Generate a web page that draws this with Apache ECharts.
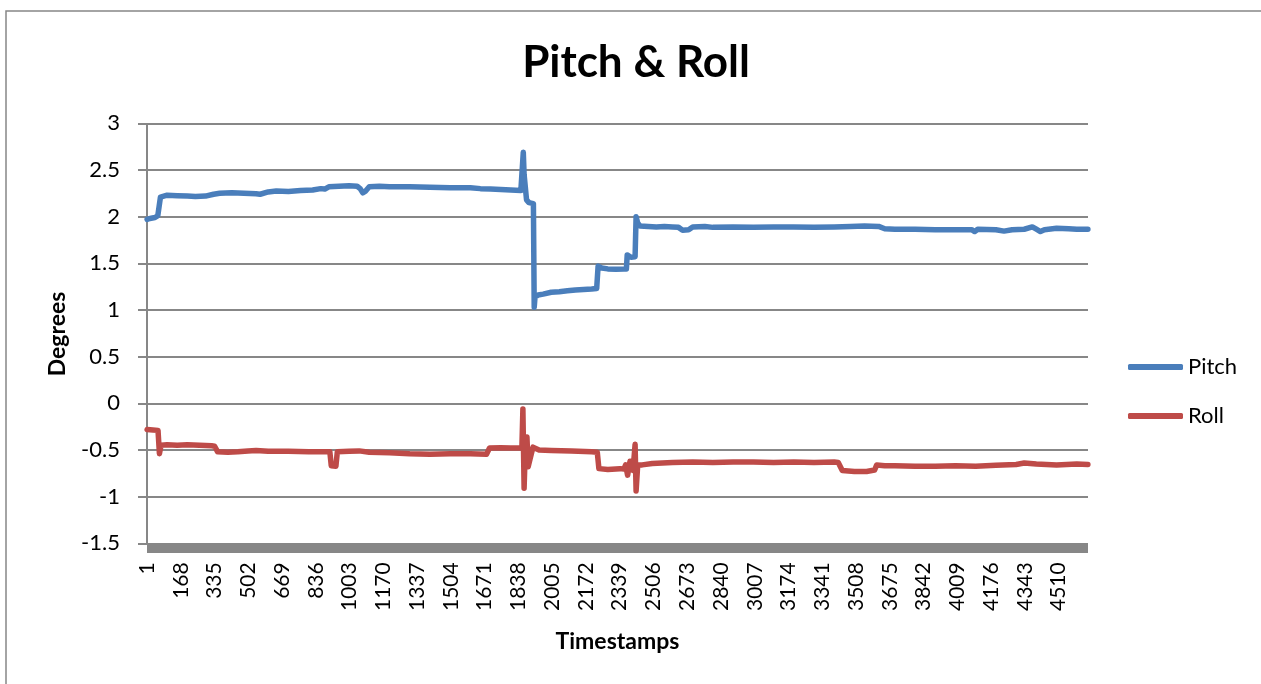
<!DOCTYPE html>
<html>
<head>
<meta charset="utf-8">
<script src="https://cdn.jsdelivr.net/npm/echarts@6/dist/echarts.min.js"></script>
<style>
  html, body { margin: 0; padding: 0; background: #fff; }
  #chart { width: 1261px; height: 684px; }
</style>
</head>
<body>
<div id="chart"></div>
<script>
// ---- Data ----
const timestampCount = 4655;               // number of samples on the category axis
const timestamps = Array.from({ length: timestampCount }, (_, i) => String(i + 1));
const xLabelEvery = 167;                   // label every 167th timestamp: 1, 168, 335, ...
const yTicks = [-1.5, -1, -0.5, 0, 0.5, 1, 1.5, 2, 2.5, 3];
const seriesNames = ['Pitch', 'Roll'];

// [timestamp, degrees]
const pitchPoints = [
  [1, 1.97], [15, 1.98], [40, 1.99], [54, 2.01], [62, 2.01], [67, 2.21], [100, 2.23],
  [150, 2.225], [200, 2.22], [240, 2.215], [290, 2.22], [330, 2.24], [360, 2.25],
  [420, 2.255], [480, 2.25], [540, 2.245], [560, 2.24], [600, 2.265], [640, 2.275],
  [700, 2.27], [760, 2.28], [820, 2.285], [860, 2.30], [880, 2.295], [900, 2.32],
  [950, 2.325], [1000, 2.33], [1040, 2.325], [1055, 2.30], [1068, 2.255], [1080, 2.27],
  [1100, 2.32], [1150, 2.325], [1200, 2.32], [1300, 2.32], [1400, 2.315], [1500, 2.31],
  [1600, 2.31], [1650, 2.30], [1700, 2.295], [1750, 2.29], [1800, 2.285], [1850, 2.28],
  [1858, 2.30], [1862, 2.69], [1866, 2.45], [1872, 2.43], [1878, 2.18], [1890, 2.15],
  [1912, 2.14], [1916, 1.03], [1920, 1.14], [1935, 1.16], [1960, 1.17], [2000, 1.19],
  [2040, 1.195], [2080, 1.205], [2120, 1.215], [2160, 1.22], [2200, 1.225], [2225, 1.23],
  [2232, 1.47], [2250, 1.45], [2280, 1.44], [2320, 1.435], [2360, 1.44], [2372, 1.44],
  [2376, 1.59], [2395, 1.565], [2415, 1.57], [2420, 2.0], [2428, 1.93], [2440, 1.90],
  [2480, 1.895], [2520, 1.89], [2560, 1.895], [2600, 1.89], [2630, 1.885], [2650, 1.855],
  [2680, 1.86], [2700, 1.89], [2760, 1.895], [2800, 1.885], [2900, 1.89], [3000, 1.885],
  [3100, 1.89], [3200, 1.89], [3300, 1.885], [3400, 1.89], [3480, 1.895], [3550, 1.90],
  [3620, 1.895], [3650, 1.87], [3700, 1.865], [3800, 1.865], [3900, 1.86], [4000, 1.86],
  [4080, 1.86], [4095, 1.84], [4110, 1.865], [4200, 1.86], [4240, 1.845], [4280, 1.86],
  [4340, 1.865], [4380, 1.89], [4400, 1.865], [4420, 1.84], [4440, 1.86], [4500, 1.875],
  [4560, 1.87], [4600, 1.865], [4655, 1.865]
];

const rollPoints = [
  [1, -0.28], [30, -0.285], [55, -0.29], [60, -0.30], [62, -0.54], [66, -0.55], [70, -0.45],
  [100, -0.445], [150, -0.45], [200, -0.445], [260, -0.45], [320, -0.455], [335, -0.46],
  [350, -0.52], [400, -0.525], [450, -0.52], [500, -0.51], [540, -0.505], [600, -0.515],
  [700, -0.515], [800, -0.52], [905, -0.52], [912, -0.67], [935, -0.675], [942, -0.52],
  [1000, -0.515], [1050, -0.51], [1100, -0.525], [1200, -0.53], [1300, -0.54], [1400, -0.545],
  [1500, -0.54], [1600, -0.54], [1680, -0.545], [1695, -0.48], [1750, -0.475], [1800, -0.48],
  [1855, -0.48], [1860, -0.06], [1866, -0.91], [1872, -0.48], [1880, -0.36], [1886, -0.68],
  [1895, -0.60], [1910, -0.47], [1940, -0.50], [2000, -0.505], [2100, -0.51], [2200, -0.52],
  [2228, -0.525], [2236, -0.70], [2280, -0.71], [2340, -0.70], [2360, -0.705], [2368, -0.66],
  [2378, -0.77], [2390, -0.62], [2405, -0.72], [2415, -0.44], [2420, -0.94], [2428, -0.66],
  [2450, -0.66], [2500, -0.645], [2600, -0.635], [2700, -0.63], [2800, -0.635], [2900, -0.63],
  [3000, -0.63], [3100, -0.635], [3200, -0.63], [3300, -0.635], [3400, -0.63], [3420, -0.635],
  [3440, -0.72], [3500, -0.73], [3560, -0.73], [3600, -0.715], [3610, -0.66], [3650, -0.67],
  [3700, -0.67], [3800, -0.675], [3900, -0.675], [4000, -0.67], [4100, -0.675], [4200, -0.665],
  [4300, -0.655], [4340, -0.64], [4400, -0.65], [4500, -0.66], [4600, -0.65], [4655, -0.655]
];

// ---- Chart ----
const FONT = 'Lato, "Open Sans", sans-serif';
const GRAY = '#878787';
const chart = echarts.init(document.getElementById('chart'), null, { renderer: 'canvas' });

const toIdx = pts => pts.map(([t, v]) => [t - 1, v]);

chart.setOption({
  animation: false,
  backgroundColor: '#ffffff',
  title: {
    text: 'Pitch & Roll',
    left: 636,
    top: 41,
    padding: 0,
    textAlign: 'center',
    textStyle: { fontFamily: FONT, fontWeight: 'bold', fontSize: 44, color: '#000' }
  },
  legend: {
    orient: 'vertical',
    left: 1128,
    top: 356,
    padding: 0,
    itemWidth: 55,
    itemHeight: 6,
    itemGap: 27,
    icon: 'roundRect',
    textStyle: { fontFamily: FONT, fontSize: 22, color: '#000', lineHeight: 22 },
    data: seriesNames
  },
  grid: { left: 147, right: 173, top: 123.3, bottom: 140.7, containLabel: false },
  xAxis: {
    type: 'category',
    data: timestamps,
    boundaryGap: true,
    offset: 5,
    axisLine: { show: true, onZero: false, lineStyle: { color: GRAY, width: 9, cap: 'butt' } },
    axisTick: { show: false },
    axisLabel: {
      interval: xLabelEvery - 1,
      rotate: 90,
      margin: 14,
      fontFamily: FONT,
      fontSize: 21,
      color: '#000'
    },
    splitLine: { show: false }
  },
  yAxis: {
    type: 'value',
    min: yTicks[0],
    max: yTicks[yTicks.length - 1],
    interval: 0.5,
    axisLine: { show: true, lineStyle: { color: GRAY, width: 2, cap: 'butt' } },
    axisTick: { show: true, length: 9, lineStyle: { color: GRAY, width: 2 } },
    axisLabel: { margin: 27, fontFamily: FONT, fontSize: 22, color: '#000' },
    splitLine: { show: true, lineStyle: { color: GRAY, width: 2 } }
  },
  series: [
    {
      name: seriesNames[0],
      type: 'line',
      data: toIdx(pitchPoints),
      showSymbol: false,
      symbol: 'none',
      color: '#4A7EBB',
      lineStyle: { color: '#4A7EBB', width: 5.5, cap: 'round', join: 'round' }
    },
    {
      name: seriesNames[1],
      type: 'line',
      data: toIdx(rollPoints),
      showSymbol: false,
      symbol: 'none',
      color: '#BE4B48',
      lineStyle: { color: '#BE4B48', width: 5.5, cap: 'round', join: 'round' }
    }
  ],
  graphic: [
    {
      type: 'rect',
      shape: { x: 6, y: 11, width: 1300, height: 700 },
      style: { fill: 'none', stroke: GRAY, lineWidth: 1.5 },
      silent: true
    },
    {
      type: 'text',
      x: 58, y: 334,
      rotation: Math.PI / 2,
      style: {
        text: 'Degrees', fontFamily: FONT, fontWeight: 'bold', fontSize: 23,
        fill: '#000', align: 'center', verticalAlign: 'middle'
      }
    },
    {
      type: 'text',
      x: 617.5, y: 642,
      style: {
        text: 'Timestamps', fontFamily: FONT, fontWeight: 'bold', fontSize: 23,
        fill: '#000', align: 'center', verticalAlign: 'middle'
      }
    }
  ]
});
</script>
</body>
</html>
